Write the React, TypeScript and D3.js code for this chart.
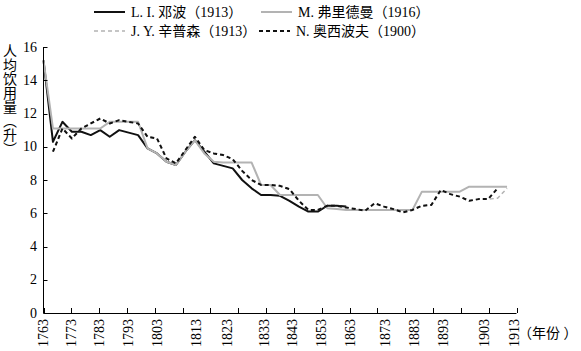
import * as d3 from 'd3'

// 数据：每 3 年一个点
const years = [
  1763, 1766, 1769, 1772, 1775, 1778, 1781, 1784, 1787, 1790,
  1793, 1796, 1799, 1802, 1805, 1808, 1811, 1814, 1817, 1820,
  1823, 1826, 1829, 1832, 1835, 1838, 1841, 1844, 1847, 1850,
  1853, 1856, 1859, 1862, 1865, 1868, 1871, 1874, 1877, 1880,
  1883, 1886, 1889, 1892, 1895, 1898, 1901, 1904, 1907, 1910,
]

const dunbar: (number | null)[] = [
  15.2, 10.3, 11.5, 10.9, 10.9, 10.7, 11.0, 10.6, 11.0, 10.85,
  10.7, 9.9, 9.6, 9.1, 8.9, 9.7, 10.4, 9.7, 9.0, 8.85,
  8.7, 8.0, 7.5, 7.1, 7.1, 7.05, 6.75, 6.4, 6.1, 6.1,
  6.45, 6.45, 6.4, null, null, null, null, null, null, null,
  null, null, null, null, null, null, null, null, null, null,
]

const friedman: (number | null)[] = [
  15.2, 11.1, 11.1, 11.1, 11.1, 11.1, 11.1, 11.5, 11.5, 11.5,
  11.5, 9.9, 9.6, 9.1, 8.9, 9.7, 10.4, 9.6, 9.1, 9.05,
  9.05, 9.05, 9.05, 7.7, 7.7, 7.1, 7.1, 7.1, 7.1, 7.1,
  6.3, 6.25, 6.2, 6.2, 6.2, 6.2, 6.2, 6.2, 6.2, 6.2,
  7.3, 7.3, 7.3, 7.3, 7.3, 7.6, 7.6, 7.6, 7.6, 7.6,
]

const simpson: (number | null)[] = [
  null, 9.7, 11.1, 10.5, 11.1, 11.4, 11.7, 11.4, 11.6, 11.5,
  11.4, 10.6, 10.5, 9.3, 9.0, 9.8, 10.6, 9.8, 9.6, 9.5,
  9.25, 8.55, 8.0, 7.7, 7.7, 7.65, 7.45, 6.75, 6.2, 6.2,
  6.45, 6.45, 6.35, 6.25, 6.15, 6.6, 6.4, 6.25, 6.05, 6.2,
  6.45, 6.5, 7.4, 7.15, 7.0, 6.75, 6.85, 6.85, 6.9, 7.5,
]

const osipov: (number | null)[] = [
  null, 9.7, 11.1, 10.5, 11.1, 11.4, 11.7, 11.4, 11.6, 11.5,
  11.4, 10.6, 10.5, 9.3, 9.0, 9.8, 10.6, 9.8, 9.6, 9.5,
  9.25, 8.55, 8.0, 7.7, 7.7, 7.65, 7.45, 6.75, 6.2, 6.2,
  6.45, 6.45, 6.35, 6.25, 6.15, 6.6, 6.4, 6.25, 6.05, 6.2,
  6.45, 6.5, 7.4, 7.15, 7.0, 6.75, 6.85, 6.85, 7.5, null,
]

const yTicks = [0, 2, 4, 6, 8, 10, 12, 14, 16]
const yearLabels = [
  '1763', '1773', '1783', '1793', '1803', '1813', '1823', '1833',
  '1843', '1853', '1863', '1873', '1883', '1893', '1903', '1913',
]
// 原图的年份标注并不正好落在对应年份上，这里按原图的位置（换算成年份）
const labelAt = [
  1763, 1771.9, 1780.9, 1789.8, 1799, 1811.4, 1821.5, 1833.2,
  1842.1, 1851.3, 1860.2, 1871.6, 1880.5, 1889.7, 1903, 1912.5,
]
const tickCount = 17

const series = [
  { name: 'L. I. 邓波（1913）', values: dunbar, color: '#111', width: 2, dash: '' },
  { name: 'M. 弗里德曼（1916）', values: friedman, color: '#b3b3b3', width: 2, dash: '' },
  { name: 'J. Y. 辛普森（1913）', values: simpson, color: '#b3b3b3', width: 1.5, dash: '4,3' },
  { name: 'N. 奥西波夫（1900）', values: osipov, color: '#111', width: 2, dash: '4,3' },
]

const font = "'Liberation Serif', 'Noto Sans CJK SC', serif"

export default function App() {
  const width = 581
  const height = 351

  const x = d3.scaleLinear().domain([1763, 1913]).range([43.5, 516.5])
  const y = d3.scaleLinear().domain([0, 16]).range([313, 47])

  const line = d3
    .line<[number, number | null]>()
    .defined(d => d[1] != null)
    .x(d => x(d[0]))
    .y(d => y(d[1] as number))

  const xTicks = d3.range(tickCount + 1).map(i => 1763 + (i * 150) / tickCount)

  // 图例：两行两列
  const legendPos = [
    { lx: 94, ly: 12 },
    { lx: 261, ly: 12 },
    { lx: 94, ly: 31 },
    { lx: 259, ly: 31 },
  ]

  return (
    <svg
      width={width}
      height={height}
      style={{ position: 'absolute', left: 0, top: 0, background: '#fff' }}
      fontFamily={font}
    >
      {/* 折线 */}
      {series.map(s => (
        <path
          key={s.name}
          d={line(years.map((yr, i) => [yr, s.values[i]] as [number, number | null])) || ''}
          fill="none"
          stroke={s.color}
          strokeWidth={s.width}
          strokeDasharray={s.dash || undefined}
          strokeLinejoin="round"
        />
      ))}

      {/* Y 轴 */}
      <line x1={43.5} x2={43.5} y1={y(0)} y2={y(16)} stroke="#000" strokeWidth={1} />
      {yTicks.map(t => (
        <g key={t}>
          <line x1={43.5} x2={47.5} y1={Math.round(y(t)) + 0.5} y2={Math.round(y(t)) + 0.5} stroke="#000" />
          <text x={37} y={y(t)} textAnchor="end" dominantBaseline="central" fontSize={14}>
            {t}
          </text>
        </g>
      ))}
      <text
        x={10}
        y={44}
        fontSize={14}
        style={{ writingMode: 'vertical-rl' }}
        fontFamily="'Noto Sans CJK SC', sans-serif"
      >
        人均饮用量（升）
      </text>

      {/* X 轴 */}
      <line x1={43.5} x2={x(1913)} y1={313.5} y2={313.5} stroke="#000" strokeWidth={1} />
      {xTicks.map((t, i) => (
        <line
          key={i}
          x1={Math.round(x(t)) + 0.5}
          x2={Math.round(x(t)) + 0.5}
          y1={313}
          y2={308}
          stroke="#000"
        />
      ))}
      {yearLabels.map((lab, i) => (
        <text
          key={lab}
          transform={`translate(${x(labelAt[i])},319) rotate(-90)`}
          textAnchor="end"
          dominantBaseline="central"
          fontSize={14}
        >
          {lab}
        </text>
      ))}
      <text x={518} y={333} fontSize={14} dominantBaseline="central">
        （年份 ）
      </text>

      {/* 图例 */}
      {series.map((s, i) => (
        <g key={s.name} transform={`translate(${legendPos[i].lx},${legendPos[i].ly})`}>
          <line
            x1={0}
            x2={31}
            y1={0}
            y2={0}
            stroke={s.color}
            strokeWidth={s.width}
            strokeDasharray={s.dash || undefined}
          />
          <text x={37} y={0} dominantBaseline="central" fontSize={14}>
            {s.name}
          </text>
        </g>
      ))}
    </svg>
  )
}
